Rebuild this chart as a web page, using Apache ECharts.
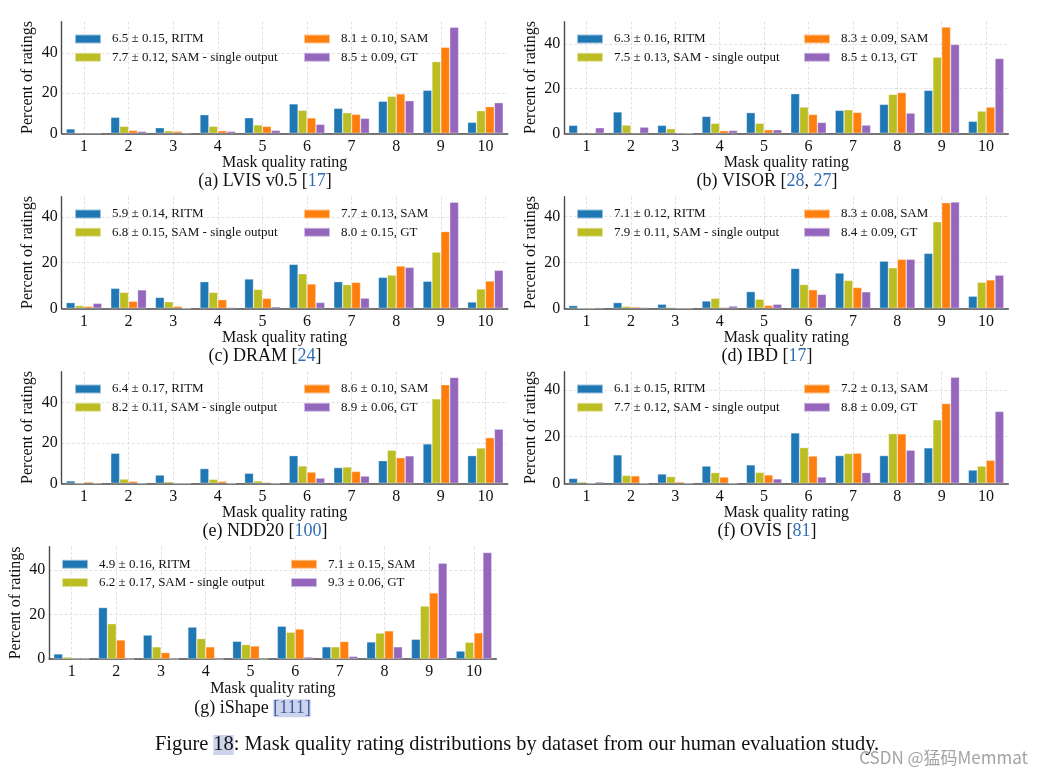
<!DOCTYPE html>
<html><head><meta charset="utf-8">
<script src="https://cdn.jsdelivr.net/npm/echarts@6/dist/echarts.min.js"></script>
<style>html,body{margin:0;padding:0;background:#fff}#c{width:1043px;height:776px}</style>
</head><body><div id="c"></div><script>
const SERIF = '"Liberation Serif", "Times New Roman", serif';
const categories = ['1','2','3','4','5','6','7','8','9','10'];
const methodNames = ['RITM', 'SAM - single output', 'SAM', 'GT'];
const methodColors = ['#1f77b4', '#bcbd22', '#ff7f0e', '#9467bd'];

// (a) LVIS v0.5
const lvisScores = ['6.5 ± 0.15', '7.7 ± 0.12', '8.1 ± 0.10', '8.5 ± 0.09'];
const lvisRITM   = [2.2, 8.0, 2.8, 9.3, 7.8, 14.7, 12.5, 16.0, 21.5, 5.5];
const lvisSingle = [0.3, 3.5, 1.3, 3.5, 4.2, 11.5, 10.3, 18.5, 35.8, 11.3];
const lvisSAM    = [0.3, 1.5, 1.0, 1.3, 3.5, 7.7, 9.5, 19.7, 43.0, 13.3];
const lvisGT     = [0.3, 1.0, 0.3, 1.0, 1.5, 4.5, 7.5, 16.3, 53.0, 15.3];
// (b) VISOR
const visorScores = ['6.3 ± 0.16', '7.5 ± 0.13', '8.3 ± 0.09', '8.5 ± 0.13'];
const visorRITM   = [3.6, 9.6, 3.6, 7.6, 9.3, 17.8, 10.3, 13.0, 19.3, 5.4];
const visorSingle = [0.3, 3.7, 2.1, 4.5, 4.5, 11.8, 10.6, 17.5, 34.2, 10.0];
const visorSAM    = [0.3, 0.3, 0.2, 1.2, 1.6, 8.5, 9.4, 18.3, 47.7, 11.8];
const visorGT     = [2.5, 2.8, 0, 1.3, 1.6, 4.9, 3.7, 9.1, 39.9, 33.6];
// (c) DRAM
const dramScores = ['5.9 ± 0.14', '6.8 ± 0.15', '7.7 ± 0.13', '8.0 ± 0.15'];
const dramRITM   = [2.5, 8.8, 4.8, 11.7, 12.9, 19.3, 11.7, 13.6, 11.9, 2.8];
const dramSingle = [1.2, 7.0, 2.9, 7.0, 8.3, 15.2, 10.4, 14.6, 24.7, 8.5];
const dramSAM    = [0.9, 3.1, 0.9, 3.8, 4.4, 10.7, 11.4, 18.6, 33.7, 12.0];
const dramGT     = [2.2, 8.1, 0, 0.4, 0.7, 2.6, 4.5, 18.0, 46.6, 16.7];
// (d) IBD
const ibdScores = ['7.1 ± 0.12', '7.9 ± 0.11', '8.3 ± 0.08', '8.4 ± 0.09'];
const ibdRITM   = [1.2, 2.5, 1.8, 3.2, 7.3, 17.4, 15.4, 20.6, 24.0, 5.3];
const ibdSingle = [0, 0.9, 0.4, 4.4, 4.0, 10.4, 12.2, 17.7, 37.8, 11.4];
const ibdSAM    = [0, 0.6, 0.1, 0.4, 1.3, 8.1, 9.1, 21.4, 46.1, 12.4];
const ibdGT     = [0.3, 0.4, 0.1, 1.0, 1.8, 6.1, 7.2, 21.4, 46.4, 14.5];
// (e) NDD20
const nddScores = ['6.4 ± 0.17', '8.2 ± 0.11', '8.6 ± 0.10', '8.9 ± 0.06'];
const nddRITM   = [1.2, 14.9, 4.1, 7.3, 5.0, 13.7, 7.8, 11.2, 19.5, 13.7];
const nddSingle = [0, 2.1, 0.8, 2.0, 1.2, 8.6, 8.1, 16.4, 41.8, 17.5];
const nddSAM    = [0.7, 1.0, 0, 1.0, 0.5, 5.6, 5.9, 12.7, 48.8, 22.6];
const nddGT     = [0, 0, 0, 0, 0, 2.6, 3.6, 13.6, 52.4, 26.8];
// (f) OVIS
const ovisScores = ['6.1 ± 0.15', '7.7 ± 0.12', '7.2 ± 0.13', '8.8 ± 0.09'];
const ovisRITM   = [2.1, 12.2, 4.0, 7.4, 7.9, 21.6, 11.9, 11.9, 15.2, 5.7];
const ovisSingle = [0.6, 3.4, 2.9, 4.6, 4.7, 15.3, 12.8, 21.3, 27.2, 7.4];
const ovisSAM    = [0, 3.2, 0.6, 2.7, 3.6, 11.7, 12.9, 21.2, 34.2, 9.9];
const ovisGT     = [0.6, 0, 0, 0, 1.9, 2.7, 4.6, 14.2, 45.4, 30.8];
// (g) iShape
const ishapeScores = ['4.9 ± 0.16', '6.2 ± 0.17', '7.1 ± 0.15', '9.3 ± 0.06'];
const ishapeRITM   = [2.3, 23.2, 10.8, 14.4, 8.0, 14.8, 5.5, 7.7, 8.9, 3.6];
const ishapeSingle = [0.9, 15.9, 5.5, 9.2, 6.5, 12.1, 5.5, 11.7, 23.9, 7.6];
const ishapeSAM    = [0.2, 8.6, 2.9, 5.5, 5.9, 13.5, 7.9, 12.7, 29.8, 11.8];
const ishapeGT     = [0.2, 0, 0, 0, 0, 0.9, 1.2, 5.5, 43.2, 48.0];

const yMaxes = [55.7, 50.1, 49.0, 48.7, 55.2, 47.8, 50.6];
const captions = [
  '(a) LVIS v0.5 [{ref|17}]',
  '(b) VISOR [{ref|28}, {ref|27}]',
  '(c) DRAM [{ref|24}]',
  '(d) IBD [{ref|17}]',
  '(e) NDD20 [{ref|100}]',
  '(f) OVIS [{ref|81}]',
  '(g) iShape {hl|[111]}'
];
const figureCaption = 'Figure {hl|18}: Mask quality rating distributions by dataset from our human evaluation study.';
const xAxisName = 'Mask quality rating';
const yAxisName = 'Percent of ratings';
const watermark = 'CSDN @猛码Memmat';

const panels = [
  {scores: lvisScores,   values: [lvisRITM, lvisSingle, lvisSAM, lvisGT]},
  {scores: visorScores,  values: [visorRITM, visorSingle, visorSAM, visorGT]},
  {scores: dramScores,   values: [dramRITM, dramSingle, dramSAM, dramGT]},
  {scores: ibdScores,    values: [ibdRITM, ibdSingle, ibdSAM, ibdGT]},
  {scores: nddScores,    values: [nddRITM, nddSingle, nddSAM, nddGT]},
  {scores: ovisScores,   values: [ovisRITM, ovisSingle, ovisSAM, ovisGT]},
  {scores: ishapeScores, values: [ishapeRITM, ishapeSingle, ishapeSAM, ishapeGT]}
];

// layout (pixels)
const layout = [
  {left: 61.7,  top: 21.7,  width: 446, height: 111.6, lx: [74, 303],  ly: 39.0,  cx: 265, cy: 181.7},
  {left: 564.3, top: 21.7,  width: 444, height: 111.6, lx: [576, 803], ly: 39.0,  cx: 767, cy: 181.7},
  {left: 61.7,  top: 196.7, width: 446, height: 111.6, lx: [74, 303],  ly: 214.0, cx: 265, cy: 356.7},
  {left: 564.3, top: 196.7, width: 444, height: 111.6, lx: [576, 803], ly: 214.0, cx: 767, cy: 356.7},
  {left: 61.7,  top: 371.7, width: 446, height: 111.6, lx: [74, 303],  ly: 389.0, cx: 265, cy: 531.7},
  {left: 564.3, top: 371.7, width: 444, height: 111.6, lx: [576, 803], ly: 389.0, cx: 767, cy: 531.7},
  {left: 49.3,  top: 546.7, width: 447, height: 112.3, lx: [61, 290],  ly: 564.3, cx: 252.5, cy: 708.3}
];

const gridColor = '#d9d9d9';
const spineColor = '#4a4a4a';
const grids = [], xAxes = [], yAxes = [], series = [], legends = [], graphics = [];

panels.forEach((p, i) => {
  const L = layout[i];
  grids.push({left: L.left, top: L.top, width: L.width, height: L.height});
  xAxes.push({
    type: 'category', gridIndex: i, data: categories,
    name: xAxisName, nameLocation: 'middle', nameGap: 19,
    nameTextStyle: {fontFamily: SERIF, fontSize: 16, color: '#111'},
    axisLine: {lineStyle: {color: spineColor, width: 1.6}},
    axisTick: {show: false},
    axisLabel: {fontFamily: SERIF, fontSize: 16, color: '#111', margin: 5},
    splitLine: {show: true, alignWithLabel: true, lineStyle: {color: gridColor, type: [3, 2], width: 0.8}}
  });
  yAxes.push({
    type: 'value', gridIndex: i, min: 0, max: yMaxes[i], interval: 20,
    name: yAxisName, nameLocation: 'middle', nameGap: 26,
    nameTextStyle: {fontFamily: SERIF, fontSize: 16, color: '#111'},
    axisLine: {show: true, lineStyle: {color: spineColor, width: 1.4}},
    axisTick: {show: false},
    axisLabel: {fontFamily: SERIF, fontSize: 16, color: '#111', margin: 4, showMaxLabel: false},
    splitLine: {show: true, lineStyle: {color: [gridColor, gridColor, gridColor, 'rgba(0,0,0,0)'], type: [3, 2], width: 0.8}}
  });
  const names = methodNames.map((m, k) => p.scores[k] + ', ' + m);
  methodNames.forEach((m, k) => {
    series.push({
      type: 'bar', name: names[k], xAxisIndex: i, yAxisIndex: i,
      data: p.values[k], barWidth: '20%', barGap: '0%',
      itemStyle: {color: methodColors[k], borderColor: 'rgba(255,255,255,0.55)', borderWidth: 0.6},
      emphasis: {disabled: true}
    });
  });
  [0, 1].forEach(col => {
    legends.push({
      orient: 'vertical', left: L.lx[col], top: L.ly - 7, padding: 0,
      itemWidth: 26, itemHeight: 9, itemGap: 4.3,
      icon: 'rect', selectedMode: false,
      data: [names[col * 2], names[col * 2 + 1]],
      textStyle: {fontFamily: SERIF, fontSize: 13, color: '#111', lineHeight: 14, padding: [0, 0, 0, 6]}
    });
  });
  graphics.push({
    type: 'text', x: L.cx, y: L.cy,
    style: {
      text: captions[i], fontFamily: SERIF, fontSize: 18, fill: '#111',
      align: 'center', verticalAlign: 'middle', textAlign: 'center', textVerticalAlign: 'middle',
      rich: {
        ref: {fontFamily: SERIF, fontSize: 18, fill: '#2f6db5'},
        hl: {fontFamily: SERIF, fontSize: 18, fill: '#3d5f9e', backgroundColor: '#cdd3ec'}
      }
    }
  });
});

graphics.push({
  type: 'text', x: 155, y: 745,
  style: {
    text: figureCaption, fontFamily: SERIF, fontSize: 20.4, fill: '#111',
    align: 'left', verticalAlign: 'middle', textAlign: 'left', textVerticalAlign: 'middle',
    rich: {hl: {fontFamily: SERIF, fontSize: 20.4, fill: '#111', backgroundColor: '#cdd3ec'}}
  }
});
graphics.push({
  type: 'text', x: 1028, y: 758,
  style: {
    text: watermark, fontFamily: '"Noto Sans CJK SC", "Noto Sans", sans-serif', fontSize: 17,
    fill: 'rgba(140,140,140,0.8)', align: 'right', verticalAlign: 'middle', textAlign: 'right', textVerticalAlign: 'middle'
  }
});

const chart = echarts.init(document.getElementById('c'), null, {renderer: 'canvas'});
chart.setOption({
  backgroundColor: '#ffffff',
  animation: false,
  grid: grids, xAxis: xAxes, yAxis: yAxes, series: series, legend: legends,
  graphic: graphics
});
</script></body></html>
